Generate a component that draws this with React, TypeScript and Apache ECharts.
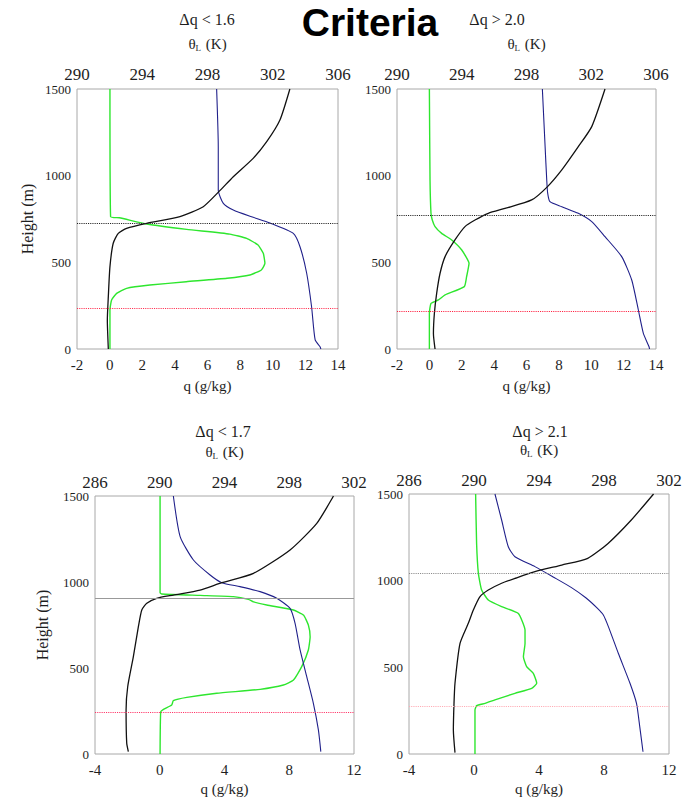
import React, { useEffect, useRef } from "react";
import * as echarts from "echarts";

// ---------- data (q in g/kg, theta in K, height in m) ----------
// Panel 1: Δq < 1.6
const p1Green: [number, number][] = [[0.02,1500],[0.06,763],[0.6,757],[2.27,721],[4.72,690],[7.37,663],[8.4,638],[9.1,600],[9.42,552],[9.52,494],[9.3,456],[8.6,427],[7.2,408],[4.7,388],[2.47,369],[1.04,350],[0.43,321],[0.12,283],[0.02,225],[0.02,0]];
const p1Blue: [number, number][] = [[6.56,1500],[6.66,1166],[6.66,917],[6.97,840],[7.58,802],[8.7,763],[9.83,727],[11.26,667],[11.67,590],[12.08,437],[12.38,244],[12.6,52],[12.9,13],[12.95,0]];
const p1Black: [number, number][] = [[291.92,0],[291.86,167],[291.92,302],[292.02,475],[292.22,610],[292.53,667],[293.04,696],[294.27,725],[296.31,763],[297.74,821],[298.7,908],[299.58,994],[300.8,1100],[301.63,1196],[302.44,1321],[303.05,1500]];
const p1Levels = [727, 237];

// Panel 2: Δq > 2.0
const p2Green: [number, number][] = [[0,1500],[0.04,975],[0.1,783],[0.18,744],[0.35,706],[0.76,667],[1.38,629],[2.0,571],[2.45,494],[2.3,417],[2.16,360],[0.97,312],[0.56,283],[0.1,263],[0,206],[0,0]];
const p2Blue: [number, number][] = [[6.98,1500],[7.15,1167],[7.25,975],[7.31,898],[7.45,850],[8.18,821],[9.2,783],[10.03,735],[10.85,648],[11.88,533],[12.5,398],[12.91,225],[13.22,90],[13.57,13],[13.6,0]];
const p2Black: [number, number][] = [[292.35,0],[292.25,90],[292.31,206],[292.45,321],[292.66,437],[292.97,533],[293.58,629],[294.2,706],[294.82,744],[295.64,783],[296.67,811],[298.32,860],[299.3,937],[300.18,1033],[301.2,1167],[302.03,1283],[302.85,1500]];
const p2Levels = [773, 219];

// Panel 3: Δq < 1.7
const p3Green: [number, number][] = [[0.02,1500],[0.02,938],[0.12,930],[2.49,922],[4.55,915],[5.48,899],[5.79,884],[6.61,866],[8.26,837],[8.88,808],[9.18,750],[9.29,682],[9.18,605],[8.77,508],[8.26,430],[7.64,401],[6.2,376],[3.52,353],[1.67,329],[0.84,310],[0.74,285],[0.23,260],[0.06,246],[0.02,0]];
const p3Blue: [number, number][] = [[0.84,1500],[1.26,1264],[2.08,1128],[3.11,1041],[3.83,996],[4.96,973],[6.2,944],[7.23,905],[8.05,847],[8.36,760],[8.67,605],[9.08,450],[9.49,295],[9.8,140],[9.95,14]];
const p3Black: [number, number][] = [[288.06,14],[287.96,62],[287.92,256],[288.02,391],[288.37,566],[288.68,740],[288.89,837],[289.2,876],[289.81,905],[290.84,924],[292.49,953],[293.83,996],[295.79,1050],[298.05,1186],[299.7,1341],[300.73,1500]];
const p3Levels = [907, 244];

// Panel 4: Δq > 2.1
const p4Green: [number, number][] = [[0.1,1500],[0.16,1215],[0.27,1042],[0.47,946],[0.88,888],[1.7,850],[2.73,811],[3.14,715],[3.14,638],[3.04,561],[3.24,504],[3.65,465],[3.86,408],[3.55,379],[2.52,350],[1.29,312],[0.68,292],[0.16,279],[0.06,254],[0.06,0]];
const p4Blue: [number, number][] = [[1.29,1500],[1.7,1350],[2.11,1196],[2.52,1138],[3.75,1081],[4.9,1020],[6.0,960],[6.9,900],[7.6,840],[7.96,802],[8.27,735],[8.88,581],[9.6,408],[10.0,292],[10.2,158],[10.4,13]];
const p4Black: [number, number][] = [[288.83,8],[288.73,138],[288.77,292],[288.83,408],[289.14,638],[289.65,754],[289.96,831],[290.37,908],[290.88,946],[291.7,985],[292.52,1013],[293.75,1052],[295.4,1090],[297.0,1129],[298.25,1215],[299.68,1350],[301.05,1500]];
const p4Levels = [1044, 277];

const panelTitles = ["Δq < 1.6", "Δq > 2.0", "Δq < 1.7", "Δq > 2.1"];
const mainTitle = "Criteria";

const SERIF = "Liberation Serif";
const TXT = "#1e1e1e";

type Pt = [number, number];
interface PanelCfg {
  grid: { left: number; top: number; width: number; height: number };
  qMin: number; qMax: number; qInt: number;
  tMin: number; tMax: number;
  green: Pt[]; blue: Pt[]; black: Pt[];
  levels: number[];
  levelStyles: { color: string; type: "dotted" | "solid" | "dashed" }[];
  yName: boolean; yNameGap: number; qNameGap: number; tNameGap: number;
  topMargin: number; bottomMargin: number;
}

const panels: PanelCfg[] = [
  { grid: { left: 77, top: 89, width: 261, height: 260 }, qMin: -2, qMax: 14, qInt: 2, tMin: 290, tMax: 306,
    green: p1Green, blue: p1Blue, black: p1Black, levels: p1Levels,
    levelStyles: [{ color: "#222", type: "dotted" }, { color: "#ff3050", type: "dotted" }],
    yName: true, yNameGap: 42, qNameGap: 29, tNameGap: 34, topMargin: 6, bottomMargin: 8 },
  { grid: { left: 397, top: 89, width: 259, height: 260 }, qMin: -2, qMax: 14, qInt: 2, tMin: 290, tMax: 306,
    green: p2Green, blue: p2Blue, black: p2Black, levels: p2Levels,
    levelStyles: [{ color: "#222", type: "dotted" }, { color: "#ff2040", type: "dotted" }],
    yName: false, yNameGap: 42, qNameGap: 29, tNameGap: 34, topMargin: 6, bottomMargin: 8 },
  { grid: { left: 95, top: 496, width: 259, height: 258 }, qMin: -4, qMax: 12, qInt: 4, tMin: 286, tMax: 302,
    green: p3Green, blue: p3Blue, black: p3Black, levels: p3Levels,
    levelStyles: [{ color: "#999", type: "solid" }, { color: "#ff3366", type: "dotted" }],
    yName: true, yNameGap: 45, qNameGap: 27, tNameGap: 33, topMargin: 5, bottomMargin: 8 },
  { grid: { left: 409, top: 494, width: 260, height: 260 }, qMin: -4, qMax: 12, qInt: 4, tMin: 286, tMax: 302,
    green: p4Green, blue: p4Blue, black: p4Black, levels: p4Levels,
    levelStyles: [{ color: "#8a8a8a", type: "dotted" }, { color: "#ffaab4", type: "dotted" }],
    yName: false, yNameGap: 45, qNameGap: 27, tNameGap: 33, topMargin: 5, bottomMargin: 8 },
];

function buildOption() {
  const grid: any[] = [];
  const xAxis: any[] = [];
  const yAxis: any[] = [];
  const series: any[] = [];
  panels.forEach((p, i) => {
    grid.push({ ...p.grid, show: true, borderColor: "#a8a8a8", borderWidth: 1, backgroundColor: "transparent" });
    xAxis.push({
      type: "value", gridIndex: i, position: "bottom", min: p.qMin, max: p.qMax, interval: p.qInt,
      name: "q (g/kg)", nameLocation: "middle", nameGap: p.qNameGap,
      nameTextStyle: { fontFamily: SERIF, fontSize: 15, color: TXT },
      axisLine: { show: false }, axisTick: { show: false }, splitLine: { show: false },
      axisLabel: { fontFamily: SERIF, fontSize: 15, color: TXT, margin: p.bottomMargin, formatter: (v: number) => String(v) },
    });
    const tMin = p.tMin;
    xAxis.push({
      type: "value", gridIndex: i, position: "top", min: p.tMin, max: p.tMax, interval: 2,
      name: "{a|θ}{b|L}{a| (K)}", nameLocation: "middle", nameGap: p.tNameGap + 2,
      nameTextStyle: {
        color: TXT, fontFamily: SERIF,
        rich: {
          a: { fontFamily: SERIF, fontSize: 15, color: TXT, lineHeight: 18 },
          b: { fontFamily: SERIF, fontSize: 9, color: TXT, lineHeight: 18, padding: [8, 1, 0, 0] },
        },
      },
      axisLine: { show: false }, axisTick: { show: false }, splitLine: { show: false },
      axisLabel: {
        fontFamily: SERIF, fontSize: 17, color: TXT, margin: p.topMargin,
        formatter: (v: number) => ((Math.round(v - tMin) % 4 === 0) ? String(v) : ""),
      },
    });
    yAxis.push({
      type: "value", gridIndex: i, min: 0, max: 1500, interval: 500,
      name: p.yName ? "Height (m)" : "", nameLocation: "middle", nameGap: p.yNameGap, nameRotate: 90,
      nameTextStyle: { fontFamily: SERIF, fontSize: 16, color: TXT },
      axisLine: { show: false }, axisTick: { show: false }, splitLine: { show: false },
      axisLabel: { fontFamily: SERIF, fontSize: 13, color: TXT, margin: 6, formatter: (v: number) => String(v) },
    });
    series.push({
      type: "line", name: `green${i}`, xAxisIndex: 2 * i, yAxisIndex: i, data: p.green,
      showSymbol: false, smooth: 0.15, lineStyle: { color: "#2ee62e", width: 1.4 },
      markLine: {
        silent: true, symbol: ["none", "none"], label: { show: false },
        data: p.levels.map((v, k) => ({ yAxis: v, lineStyle: { color: p.levelStyles[k].color, type: p.levelStyles[k].type, width: 1.1 } })),
      },
    });
    series.push({
      type: "line", name: `blue${i}`, xAxisIndex: 2 * i, yAxisIndex: i, data: p.blue,
      showSymbol: false, smooth: 0.2, lineStyle: { color: "#20208a", width: 1.1 },
    });
    series.push({
      type: "line", name: `black${i}`, xAxisIndex: 2 * i + 1, yAxisIndex: i, data: p.black,
      showSymbol: false, smooth: 0.2, lineStyle: { color: "#111", width: 1.3 },
    });
  });

  const titleFont = `16px "${SERIF}", serif`;
  const graphic: any[] = [
    { type: "text", x: 370, y: 22, style: { text: mainTitle, font: "bold 39px \"Liberation Sans\", Arial, sans-serif", fill: "#000", align: "center", verticalAlign: "middle" } },
    { type: "text", x: 207, y: 19, style: { text: panelTitles[0], font: titleFont, fill: TXT, align: "center", verticalAlign: "middle" } },
    { type: "text", x: 497, y: 19, style: { text: panelTitles[1], font: titleFont, fill: TXT, align: "center", verticalAlign: "middle" } },
    { type: "text", x: 223, y: 431, style: { text: panelTitles[2], font: titleFont, fill: TXT, align: "center", verticalAlign: "middle" } },
    { type: "text", x: 540, y: 431, style: { text: panelTitles[3], font: titleFont, fill: TXT, align: "center", verticalAlign: "middle" } },
  ];

  return { animation: false, backgroundColor: "#fff", textStyle: { fontFamily: SERIF }, grid, xAxis, yAxis, series, graphic };
}

export default function App() {
  const ref = useRef<HTMLDivElement>(null);
  useEffect(() => {
    if (!ref.current) return;
    const chart = echarts.init(ref.current, undefined, { renderer: "svg" });
    chart.setOption(buildOption() as any);
    return () => chart.dispose();
  }, []);
  return <div ref={ref} style={{ position: "absolute", left: 0, top: 0, width: 685, height: 802 }} />;
}
